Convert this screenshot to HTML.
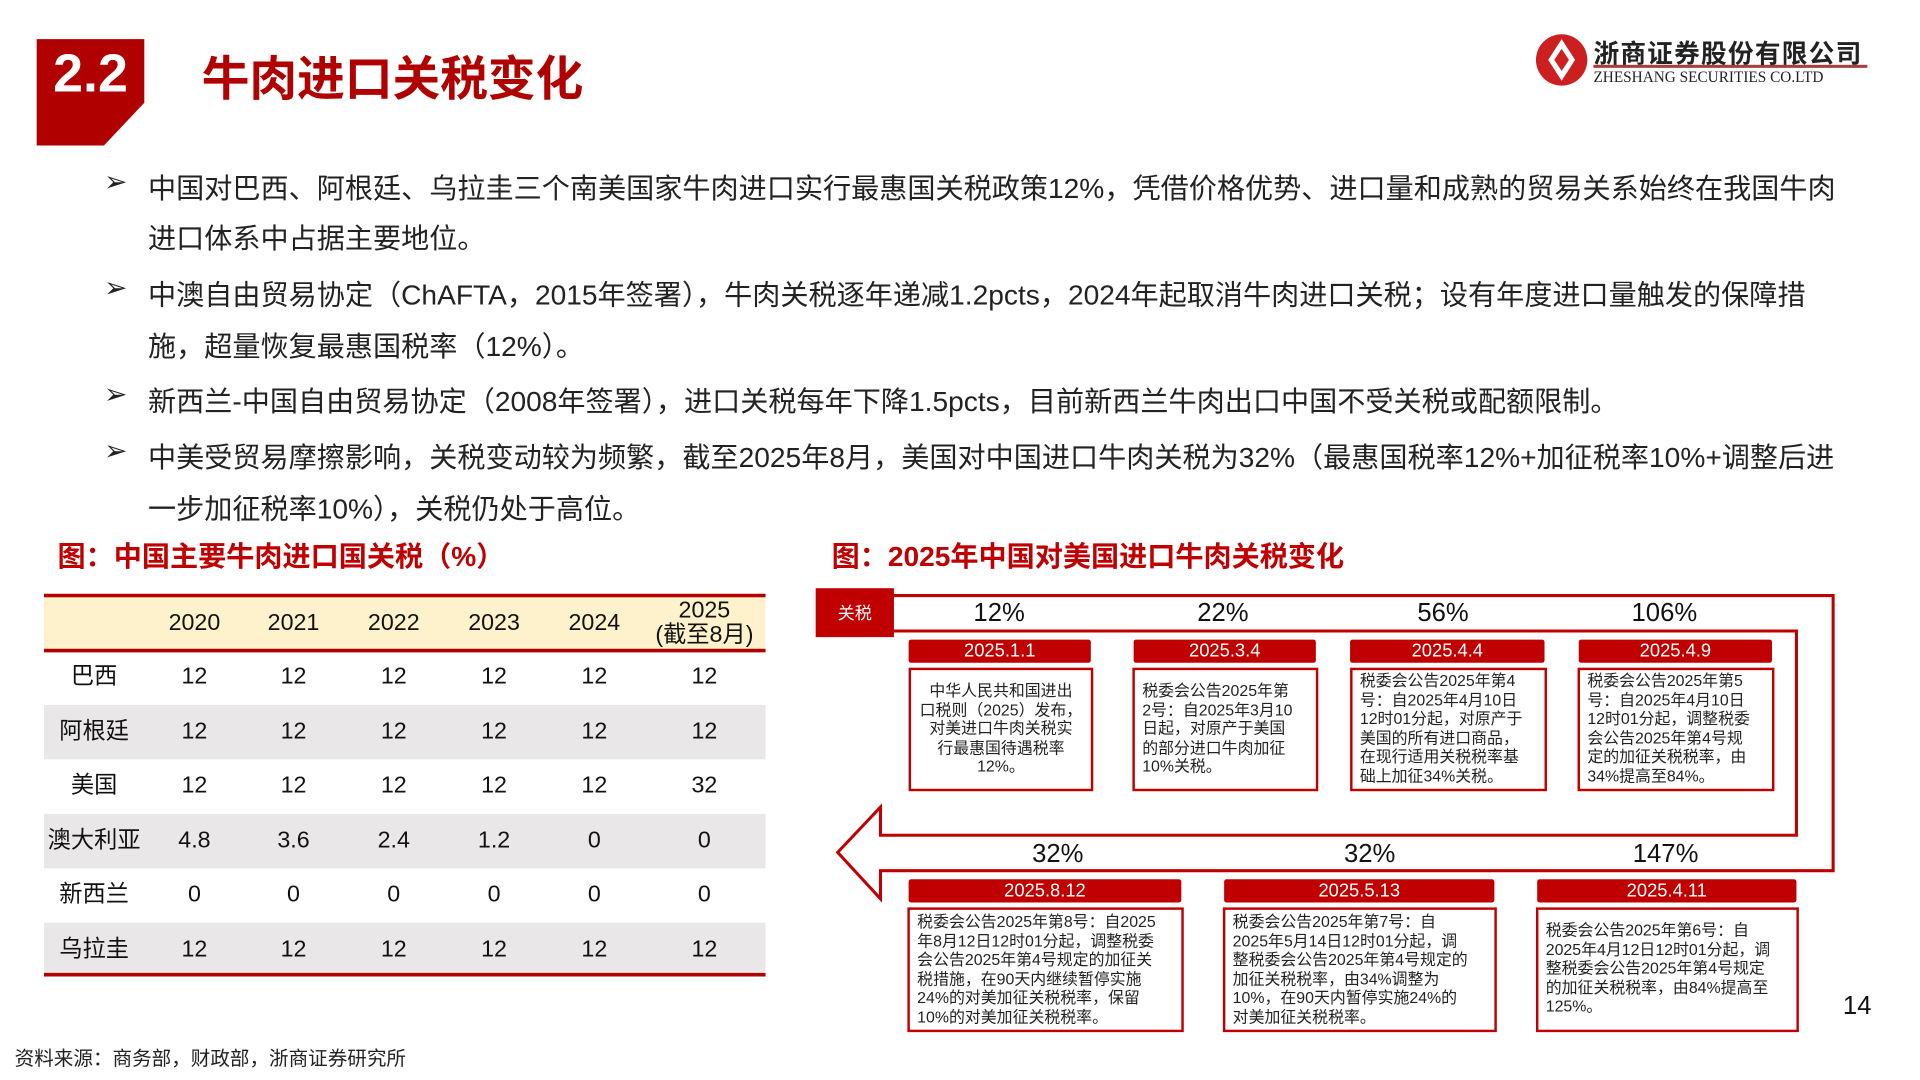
<!DOCTYPE html>
<html><head><meta charset="utf-8">
<style>
html,body{margin:0;padding:0;background:#fff;}
body{width:1920px;height:1080px;overflow:hidden;position:relative;}
#stage{position:absolute;left:0;top:0;width:1570px;height:883px;transform:scale(1.2229);transform-origin:0 0;font-family:"Liberation Sans","Noto Sans CJK SC",sans-serif;color:#111;}
.abs{position:absolute;white-space:nowrap;}
.bl{position:absolute;left:85px;font-size:23px;color:#222;}
.bl span.t{position:absolute;left:36px;white-space:nowrap;}
.row{position:absolute;left:36px;width:590px;height:44.5px;font-size:19px;}
.row div{position:absolute;top:0;height:44.5px;line-height:44.5px;text-align:center;transform:translateX(-50%);white-space:nowrap;}
.date{position:absolute;background:#c00000;color:#fff;font-size:15px;text-align:center;height:19px;line-height:19px;border-radius:2px;}
.box{position:absolute;border:2.5px solid #c00000;box-sizing:border-box;font-size:13px;line-height:15.6px;color:#222;padding:3px 6px;background:#fff;white-space:nowrap;overflow:hidden;}
.pct{position:absolute;font-size:21px;transform:translate(-50%,-50%);}
</style></head>
<body>
<div id="stage">
<svg class="abs" style="left:0;top:0" width="1570" height="883">
 <polygon points="30,32 118,32 118,84 85,119 30,119" fill="#b00000"/>
 <circle cx="1277" cy="49" r="21" fill="#cc1f1f"/>
 <path d="M1277 32 L1288 49 L1277 66 L1266 49 Z" fill="#fff"/>
 <path d="M1277 40 L1283 49 L1277 58 L1271 49 Z" fill="#cc1f1f"/>
 <rect x="1303" y="53" width="224" height="2.5" fill="#a5403c"/>
 <line x1="36" y1="487" x2="626" y2="487" stroke="#b00000" stroke-width="3"/>
 <rect x="36" y="488.5" width="590" height="43" fill="#fdf2cc"/>
 <line x1="36" y1="532" x2="626" y2="532" stroke="#b00000" stroke-width="3"/>
 <rect x="36" y="576.5" width="590" height="44.5" fill="#e9e7e7"/>
 <rect x="36" y="665.5" width="590" height="44.5" fill="#e9e7e7"/>
 <rect x="36" y="754.5" width="590" height="43" fill="#e9e7e7"/>
 <line x1="36" y1="797" x2="626" y2="797" stroke="#b00000" stroke-width="3"/>
 <path d="M731 487 L1499 487 L1499 712 L720 712 L720 735 L685 697 L720 660 L720 683 L1469 683 L1469 516 L731 516" fill="#fff" stroke="#c00000" stroke-width="2.5"/>
 <rect x="667" y="481" width="64" height="40" fill="#c00000"/>
</svg>
<div class="abs" style="left:30px;top:36px;width:88px;text-align:center;font-size:44px;font-weight:bold;color:#fff;">2.2</div>
<div class="abs" style="left:165px;top:34px;font-size:39px;font-weight:bold;color:#b00000;">牛肉进口关税变化</div>
<div class="abs" style="left:1303px;top:28px;font-size:21px;font-weight:bold;color:#222;letter-spacing:1px;">浙商证券股份有限公司</div>
<div class="abs" style="left:1303px;top:56px;font-size:12.5px;font-family:'Liberation Serif',serif;color:#222;">ZHESHANG SECURITIES CO.LTD</div>

<div class="bl" style="top:135px">➢<span class="t">中国对巴西、阿根廷、乌拉圭三个南美国家牛肉进口实行最惠国关税政策12%，凭借价格优势、进口量和成熟的贸易关系始终在我国牛肉</span><span class="t" style="top:41px">进口体系中占据主要地位。</span></div>
<div class="bl" style="top:222px">➢<span class="t">中澳自由贸易协定（ChAFTA，2015年签署），牛肉关税逐年递减1.2pcts，2024年起取消牛肉进口关税；设有年度进口量触发的保障措</span><span class="t" style="top:42px">施，超量恢复最惠国税率（12%）。</span></div>
<div class="bl" style="top:309px">➢<span class="t">新西兰-中国自由贸易协定（2008年签署），进口关税每年下降1.5pcts，目前新西兰牛肉出口中国不受关税或配额限制。</span></div>
<div class="bl" style="top:355px">➢<span class="t">中美受贸易摩擦影响，关税变动较为频繁，截至2025年8月，美国对中国进口牛肉关税为32%（最惠国税率12%+加征税率10%+调整后进</span><span class="t" style="top:42px">一步加征税率10%），关税仍处于高位。</span></div>

<div class="abs" style="left:47px;top:436px;font-size:23px;font-weight:bold;color:#c00000;">图：中国主要牛肉进口国关税（%）</div>
<div class="abs" style="left:680px;top:436px;font-size:23px;font-weight:bold;color:#c00000;">图：2025年中国对美国进口牛肉关税变化</div>

<div id="table"></div>

<div class="abs" style="left:667px;top:481px;width:64px;height:40px;line-height:40px;text-align:center;color:#fff;font-size:14px;">关税</div>

<div class="pct" style="left:817px;top:502px">12%</div>
<div class="pct" style="left:1000px;top:502px">22%</div>
<div class="pct" style="left:1180px;top:502px">56%</div>
<div class="pct" style="left:1361px;top:502px">106%</div>
<div class="pct" style="left:865px;top:699px">32%</div>
<div class="pct" style="left:1120px;top:699px">32%</div>
<div class="pct" style="left:1362px;top:699px">147%</div>

<div class="date" style="left:743px;top:523px;width:149px">2025.1.1</div>
<div class="date" style="left:927px;top:523px;width:149px">2025.3.4</div>
<div class="date" style="left:1104px;top:523px;width:159px">2025.4.4</div>
<div class="date" style="left:1291px;top:523px;width:158px">2025.4.9</div>
<div class="date" style="left:743px;top:719px;width:223px">2025.8.12</div>
<div class="date" style="left:1001px;top:719px;width:221px">2025.5.13</div>
<div class="date" style="left:1257px;top:719px;width:212px">2025.4.11</div>

<div class="box" style="left:743px;top:546px;width:151px;height:101px;text-align:center;padding-top:9px">中华人民共和国进出<br>口税则（2025）发布，<br>对美进口牛肉关税实<br>行最惠国待遇税率<br>12%。</div>
<div class="box" style="left:926px;top:546px;width:152px;height:101px;padding-top:9px">税委会公告2025年第<br>2号：自2025年3月10<br>日起，对原产于美国<br>的部分进口牛肉加征<br>10%关税。</div>
<div class="box" style="left:1104px;top:546px;width:161px;height:101px;padding-top:1px">税委会公告2025年第4<br>号：自2025年4月10日<br>12时01分起，对原产于<br>美国的所有进口商品，<br>在现行适用关税税率基<br>础上加征34%关税。</div>
<div class="box" style="left:1290px;top:546px;width:161px;height:101px;padding-top:1px">税委会公告2025年第5<br>号：自2025年4月10日<br>12时01分起，调整税委<br>会公告2025年第4号规<br>定的加征关税税率，由<br>34%提高至84%。</div>
<div class="box" style="left:742px;top:742px;width:226px;height:102px;padding-top:2px">税委会公告2025年第8号：自2025<br>年8月12日12时01分起，调整税委<br>会公告2025年第4号规定的加征关<br>税措施，在90天内继续暂停实施<br>24%的对美加征关税税率，保留<br>10%的对美加征关税税率。</div>
<div class="box" style="left:1000px;top:742px;width:224px;height:102px;padding-top:2px">税委会公告2025年第7号：自<br>2025年5月14日12时01分起，调<br>整税委会公告2025年第4号规定的<br>加征关税税率，由34%调整为<br>10%，在90天内暂停实施24%的<br>对美加征关税税率。</div>
<div class="box" style="left:1256px;top:742px;width:215px;height:102px;padding-top:9px">税委会公告2025年第6号：自<br>2025年4月12日12时01分起，调<br>整税委会公告2025年第4号规定<br>的加征关税税率，由84%提高至<br>125%。</div>

<div class="abs" style="left:1507px;top:811px;font-size:21px;">14</div>
<div class="abs" style="left:12px;top:852px;font-size:16px;color:#222;">资料来源：商务部，财政部，浙商证券研究所</div>
</div>
<script>
const years = ["2020","2021","2022","2023","2024","2025"];
const countries = ["巴西","阿根廷","美国","澳大利亚","新西兰","乌拉圭"];
const brazil = [12,12,12,12,12,12];
const argentina = [12,12,12,12,12,12];
const usa = [12,12,12,12,12,32];
const australia = [4.8,3.6,2.4,1.2,0,0];
const newzealand = [0,0,0,0,0,0];
const uruguay = [12,12,12,12,12,12];
const series = [brazil,argentina,usa,australia,newzealand,uruguay];
const colX = [41,123,204,286,368,450,540];
const stage = document.getElementById('stage');
function cell(parent, x, txt, style){
  const d = document.createElement('div');
  d.style.left = x + 'px';
  if (style) d.setAttribute('style', d.getAttribute('style') + ';' + style);
  d.innerHTML = txt;
  parent.appendChild(d);
  return d;
}
const hdr = document.createElement('div');
hdr.className = 'row';
hdr.style.top = '488px';


years.forEach((y, i) => {
  const txt = i === years.length - 1 ? y + '<br>(截至8月)' : y;
  const st = i === years.length - 1 ? 'line-height:20px;padding-top:2px;height:40px' : '';
  const c = cell(hdr, colX[i + 1], txt, st);
  
  
});
stage.appendChild(hdr);
countries.forEach((name, r) => {
  const row = document.createElement('div');
  row.className = 'row';
  row.style.top = (532 + r * 44.5) + 'px';
  
  
  const lab = cell(row, colX[0], name);
  
  
  series[r].forEach((v, i) => {
    const c = cell(row, colX[i + 1], String(v));
    
    
  });
  stage.appendChild(row);
});
</script>
</body></html>
